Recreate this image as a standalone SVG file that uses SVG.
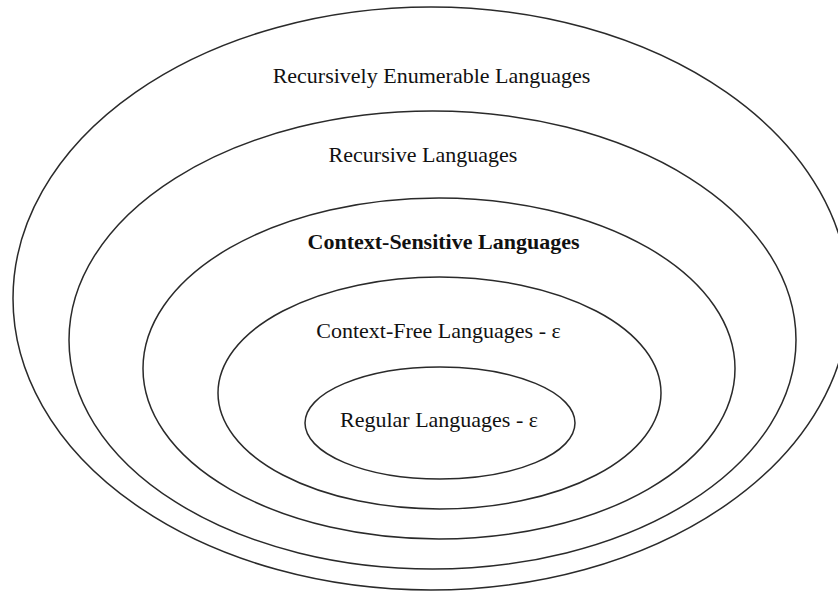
<svg xmlns="http://www.w3.org/2000/svg" width="838" height="592" viewBox="0 0 838 592">
<style>
.e{fill:none;stroke:#2a2a2a;stroke-width:1.5}
.t{font-family:"Liberation Serif","Times New Roman",serif;font-size:22px;fill:#111;text-anchor:middle}
.b{font-weight:bold}
</style>
<rect width="838" height="592" fill="#fff"/>
<g id="re">
<ellipse class="e" cx="431" cy="298.5" rx="418" ry="291.5"/>
<text class="t" x="431.5" y="83">Recursively Enumerable Languages</text>
</g>
<g id="rec">
<ellipse class="e" cx="432.5" cy="340" rx="363.5" ry="229"/>
<text class="t" x="423" y="162">Recursive Languages</text>
</g>
<g id="cs">
<ellipse class="e" cx="439" cy="368.5" rx="296" ry="170.5"/>
<text class="t b" x="443.5" y="249">Context-Sensitive Languages</text>
</g>
<g id="cf">
<ellipse class="e" cx="439.5" cy="393" rx="221.5" ry="116"/>
<text class="t" x="438.5" y="338">Context-Free Languages - ε</text>
</g>
<g id="reg">
<ellipse class="e" cx="440" cy="423" rx="135" ry="56"/>
<text class="t" x="439" y="427">Regular Languages - ε</text>
</g>
<g id="connectors"/>
</svg>
